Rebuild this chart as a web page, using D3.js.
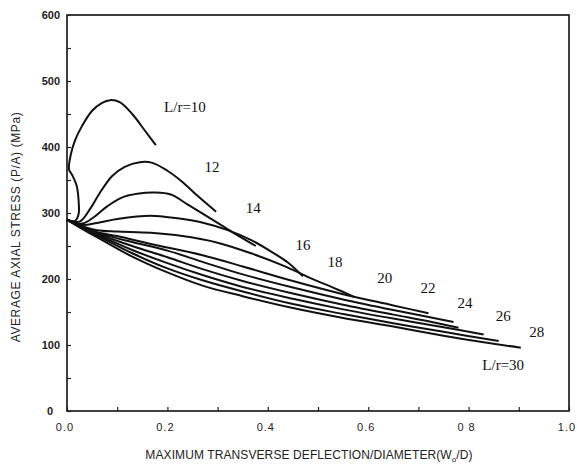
<!DOCTYPE html>
<html>
<head>
<meta charset="utf-8">
<script src="https://cdn.jsdelivr.net/npm/d3@7"></script>
<style>
  body { margin: 0; background: #fff; }
  svg { display: block; }
</style>
</head>
<body>
<div id="chart"></div>
<script>
// curve data: [deflection/diameter, stress MPa]
var slenderness = [10, 12, 14, 16, 18, 20, 22, 24, 26, 28, 30];

var curve10 = [[0,290],[0.016,288],[0.023,298],[0.023,320],[0.019,342],[0.01,358],[0.004,366],
  [0.008,390],[0.016,410],[0.03,432],[0.05,455],[0.07,467],[0.086,471],[0.105,468],[0.13,450],
  [0.155,425],[0.177,403]];
var curve12 = [[0,290],[0.025,287],[0.045,305],[0.065,330],[0.09,356],[0.115,370],[0.145,377],
  [0.17,376],[0.2,364],[0.23,347],[0.26,326],[0.297,302]];
var curve14 = [[0,290],[0.03,284],[0.054,294],[0.08,310],[0.108,323],[0.14,329],[0.175,331],
  [0.207,328],[0.24,313],[0.3,285],[0.34,266],[0.376,250]];
var curve16 = [[0,290],[0.03,282],[0.06,285],[0.1,291],[0.167,296],[0.22,292],[0.267,286],
  [0.32,274],[0.367,259],[0.41,240],[0.44,225],[0.47,204]];
var curve18 = [[0,290],[0.03,280],[0.06,274],[0.1,272],[0.167,270],[0.23,265],[0.3,255],
  [0.37,238],[0.432,220],[0.486,201],[0.53,187],[0.572,173]];
var curve20 = [[0,290],[0.03,279],[0.06,271],[0.1,265],[0.167,253],[0.27,236],[0.35,219],
  [0.45,197],[0.55,177],[0.65,160],[0.72,148]];
var curve22 = [[0,290],[0.03,279],[0.07,268],[0.13,256],[0.2,243],[0.27,226],[0.35,207],
  [0.45,187],[0.55,169],[0.65,153],[0.77,135]];
var curve24 = [[0,290],[0.03,278],[0.07,266],[0.13,250],[0.2,233],[0.27,215],[0.35,197],
  [0.45,178],[0.55,161],[0.65,146],[0.72,136],[0.78,126]];
var curve26 = [[0,290],[0.03,278],[0.07,264],[0.13,244],[0.2,224],[0.27,206],[0.35,188],
  [0.45,170],[0.55,154],[0.65,140],[0.75,127],[0.83,116]];
var curve28 = [[0,290],[0.03,277],[0.07,262],[0.13,239],[0.2,216],[0.27,198],[0.35,181],
  [0.45,162],[0.55,147],[0.65,133],[0.75,120],[0.86,106]];
var curve30 = [[0,290],[0.03,276],[0.07,259],[0.13,234],[0.2,210],[0.27,190],[0.35,174],
  [0.45,156],[0.55,141],[0.65,128],[0.75,114],[0.83,104],[0.904,96]];

var curves = [curve10, curve12, curve14, curve16, curve18, curve20, curve22,
              curve24, curve26, curve28, curve30];

// label text and anchor (baseline) in data units
var labelText = ["L/r=10", "12", "14", "16", "18", "20", "22", "24", "26", "28", "L/r=30"];
var labelAt = [[0.235, 453], [0.289, 362], [0.371, 300], [0.47, 244], [0.534, 218], [0.633, 194],
               [0.719, 179], [0.793, 156], [0.869, 136], [0.936, 112], [0.869, 62]];

var xTicks = [0, 0.2, 0.4, 0.6, 0.8, 1.0];
var xTickLabels = ["0.0", "0.2", "0.4", "0.6", "0 8", "1.0"];
var yTicks = [0, 100, 200, 300, 400, 500, 600];

var W = 577, H = 474;
var plotLeft = 67, plotRight = 569, plotTop = 15, plotBottom = 411;

var svg = d3.select("#chart").append("svg")
    .attr("width", W)
    .attr("height", H);

var x = d3.scaleLinear().domain([0, 1]).range([plotLeft, plotRight]);
var y = d3.scaleLinear().domain([0, 600]).range([plotBottom, plotTop]);

// frame
svg.append("rect")
    .attr("x", plotLeft).attr("y", plotTop)
    .attr("width", plotRight - plotLeft).attr("height", plotBottom - plotTop)
    .attr("fill", "none").attr("stroke", "#111").attr("stroke-width", 1.6);

// ticks point inward, minor every half step
svg.append("g")
    .attr("transform", "translate(0," + plotBottom + ")")
    .call(d3.axisTop(x).tickValues(d3.range(0, 1.01, 0.1)).tickSize(4).tickFormat(""))
    .call(function(g) { g.select(".domain").remove(); })
    .selectAll("line").attr("stroke", "#222").attr("stroke-width", 1.2);

svg.append("g")
    .attr("transform", "translate(" + plotLeft + ",0)")
    .call(d3.axisRight(y).tickValues(d3.range(0, 601, 50)).tickSize(4).tickFormat(""))
    .call(function(g) { g.select(".domain").remove(); })
    .selectAll("line").attr("stroke", "#222").attr("stroke-width", 1.2);

// tick labels
svg.append("g").selectAll("text")
    .data(xTicks)
    .enter().append("text")
    .attr("x", function(d) { return x(d) - 2; })
    .attr("y", 431)
    .attr("text-anchor", "middle")
    .style("font-family", "Liberation Sans, Arial, sans-serif")
    .style("font-size", "11px")
    .style("fill", "#222")
    .style("letter-spacing", "1px")
    .text(function(d, i) { return xTickLabels[i]; });

svg.append("g").selectAll("text")
    .data(yTicks)
    .enter().append("text")
    .attr("x", function(d) { return d === 0 ? 53 : 60; })
    .attr("y", function(d) { return y(d) + 4; })
    .attr("text-anchor", "end")
    .style("font-family", "Liberation Sans, Arial, sans-serif")
    .style("font-size", "11px")
    .style("font-weight", "bold")
    .style("fill", "#222")
    .text(function(d) { return d; });

// axis titles
var xt = svg.append("text")
    .attr("x", 309).attr("y", 459)
    .attr("text-anchor", "middle")
    .style("font-family", "Liberation Sans, Arial, sans-serif")
    .style("font-size", "12px")
    .style("letter-spacing", "0.1px")
    .style("fill", "#222");
xt.append("tspan").text("MAXIMUM TRANSVERSE DEFLECTION/DIAMETER(W");
xt.append("tspan").attr("dy", 3).style("font-size", "8px").text("o");
xt.append("tspan").attr("dy", -3).text("/D)");

svg.append("text")
    .attr("transform", "translate(20,227) rotate(-90)")
    .attr("text-anchor", "middle")
    .style("font-family", "Liberation Sans, Arial, sans-serif")
    .style("font-size", "12px")
    .style("fill", "#222")
    .style("letter-spacing", "0.6px")
    .text("AVERAGE AXIAL STRESS (P/A) (MPa)");

// curves
var line = d3.line()
    .x(function(d) { return x(d[0]); })
    .y(function(d) { return y(d[1]); })
    .curve(d3.curveCatmullRom.alpha(0.5));

svg.append("g").selectAll("path")
    .data(curves)
    .enter().append("path")
    .attr("d", line)
    .attr("fill", "none")
    .attr("stroke", "#111")
    .attr("stroke-width", 2);

// curve labels
svg.append("g").selectAll("text")
    .data(labelText)
    .enter().append("text")
    .attr("x", function(d, i) { return x(labelAt[i][0]); })
    .attr("y", function(d, i) { return y(labelAt[i][1]); })
    .attr("text-anchor", "middle")
    .style("font-family", "Liberation Serif, Times New Roman, serif")
    .style("font-size", "15px")
    .style("fill", "#111")
    .text(function(d) { return d; });
</script>
</body>
</html>
